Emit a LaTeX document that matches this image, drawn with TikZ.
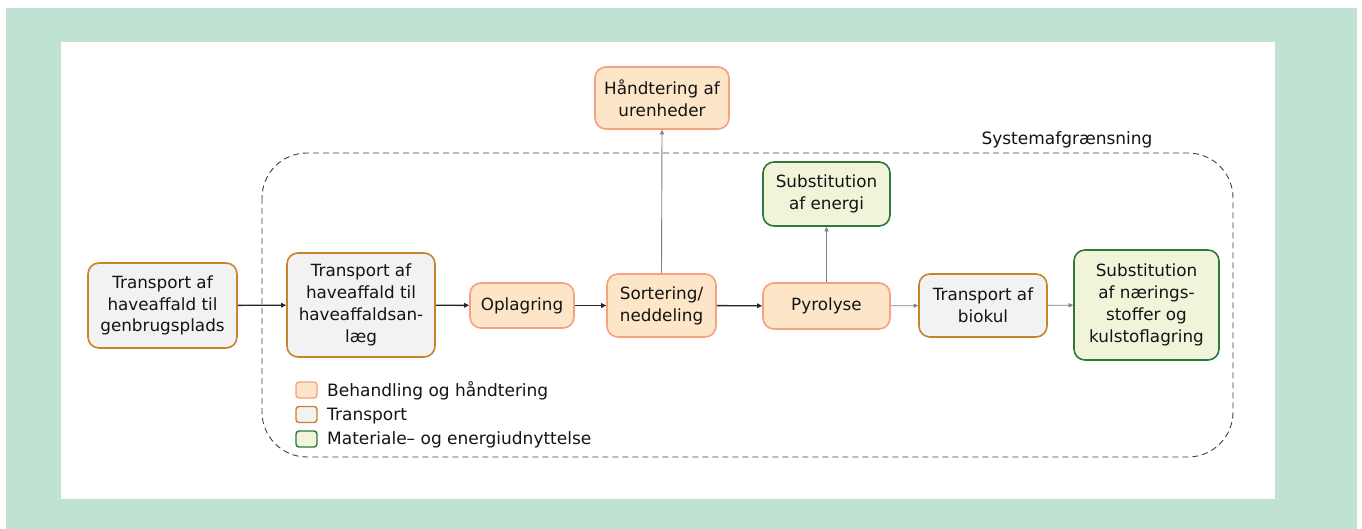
\documentclass[tikz,border=0pt]{standalone}
\usepackage{fontspec}
\setmainfont{DejaVu Sans}
\usetikzlibrary{arrows.meta,positioning}
\definecolor{bgmint}{HTML}{BFE2D2}
\definecolor{trfill}{HTML}{F2F2F2}
\definecolor{trdraw}{HTML}{C8842A}
\definecolor{bhfill}{HTML}{FDE5C8}
\definecolor{bhdraw}{HTML}{F5A182}
\definecolor{mefill}{HTML}{F2F4DA}
\definecolor{medraw}{HTML}{2D7A3C}
\definecolor{flowgray}{HTML}{808080}
\tikzset{
  box/.style={rounded corners=11pt, line width=1.6pt, align=center, inner sep=0pt,
    font=\fontsize{16.8}{21.8}\selectfont, text=black!92},
  transportbox/.style={box, fill=trfill, draw=trdraw},
  treatbox/.style={box, fill=bhfill, draw=bhdraw},
  usebox/.style={box, fill=mefill, draw=medraw},
  mainflow/.style={line width=1.4pt, black!85, -{Triangle[length=5pt,width=4.5pt]}},
  sideflow/.style={line width=0.9pt, flowgray, -{Triangle[length=4.5pt,width=4pt]}},
  legendbox/.style={rounded corners=3pt, line width=1.4pt, minimum width=21pt, minimum height=16pt, inner sep=0pt},
  legendtext/.style={anchor=west, font=\fontsize{17}{20}\selectfont, text=black!92, inner sep=0pt}
}
\begin{document}
\begin{tikzpicture}[x=1pt,y=-1pt]
\useasboundingbox (0,0) rectangle (1362,529);
% frame
\fill[bgmint] (6,8) rectangle (1357,529);
\fill[white] (61,42) rectangle (1275,499);
% system boundary
\draw[black!75, line width=0.9pt, dash pattern=on 6pt off 4pt, rounded corners=45pt]
  (262,153) rectangle (1233,457);
\node[font=\fontsize{17}{20}\selectfont, text=black!92] (sysl) at (1067,140) {Systemafgrænsning};
% process boxes
\node[transportbox, minimum width=149pt, minimum height=85pt] (genbrug) at (162.5,305.5)
  {Transport af\\haveaffald til\\genbrugsplads};
\node[transportbox, minimum width=148pt, minimum height=104pt] (anlaeg) at (361,305)
  {Transport af\\haveaffald til\\haveaffaldsan-\\læg};
\node[treatbox, minimum width=104pt, minimum height=45pt] (oplag) at (522,305.5) {Oplagring};
\node[treatbox, minimum width=109pt, minimum height=63pt] (sort) at (661.5,305.5) {Sortering/\\neddeling};
\node[treatbox, minimum width=134pt, minimum height=62pt] (uren) at (662,98) {Håndtering af\\urenheder};
\node[treatbox, minimum width=127pt, minimum height=46pt] (pyro) at (826.5,306) {Pyrolyse};
\node[usebox, minimum width=127pt, minimum height=64pt] (energi) at (826.5,194) {Substitution\\af energi};
\node[transportbox, minimum width=128pt, minimum height=63pt] (biokul) at (983,305.5) {Transport af\\biokul};
\node[usebox, minimum width=145pt, minimum height=110pt] (naering) at (1146.5,305)
  {Substitution\\af nærings-\\stoffer og\\kulstoflagring};
% flows
\draw[mainflow] (genbrug) -- (anlaeg);
\draw[mainflow] (anlaeg) -- (oplag);
\draw[mainflow] (oplag) -- (sort);
\draw[mainflow] (sort) -- (pyro);
\draw[sideflow] (pyro) -- (biokul);
\draw[sideflow] (biokul) -- (naering);
\draw[sideflow] (sort.north) -- (uren.south);
\draw[sideflow] (pyro.north) -- (energi.south);
% legend
\node[legendbox, fill=bhfill, draw=bhdraw] (lg1) at (306.5,390) {};
\node[legendbox, fill=trfill, draw=trdraw] (lg2) at (306.5,414.5) {};
\node[legendbox, fill=mefill, draw=medraw] (lg3) at (306.5,439) {};
\node[legendtext] (lt1) at (327,391) {Behandling og håndtering};
\node[legendtext] (lt2) at (327,416) {Transport};
\node[legendtext] (lt3) at (327,440) {Materiale– og energiudnyttelse};
\end{tikzpicture}
\end{document}
